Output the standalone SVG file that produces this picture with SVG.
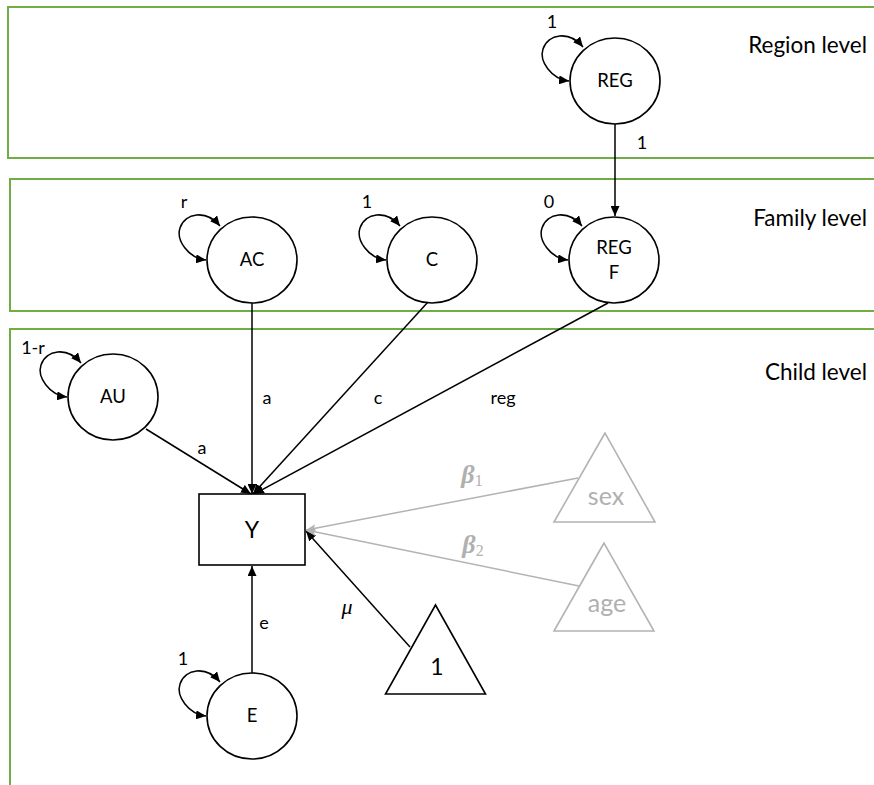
<svg xmlns="http://www.w3.org/2000/svg" width="874" height="785" viewBox="0 0 874 785">
<style>
.lvl{fill:none;stroke:#70ad47;stroke-width:2}
.node{fill:#fff;stroke:#000;stroke-width:1.6}
.gnode{fill:#fff;stroke:#b3b3b3;stroke-width:1.6}
.e{fill:none;stroke:#000;stroke-width:1.5}
.g{fill:none;stroke:#b3b3b3;stroke-width:1.5}
text{font-family:Lato,"Liberation Sans",sans-serif;fill:#000}
.nl{font-size:18.5px;text-anchor:middle}
.lb{font-size:18px;text-anchor:middle}
.lt{font-size:22.5px;text-anchor:end}
.gt{fill:#b0b0b0}
</style>
<defs>
<marker id="ah" markerUnits="userSpaceOnUse" markerWidth="11" markerHeight="9" refX="10" refY="4.5" orient="auto-start-reverse"><path d="M0,0 L10,4.5 L0,9 z" fill="#000"/></marker>
<marker id="gh" markerUnits="userSpaceOnUse" markerWidth="11" markerHeight="9" refX="10" refY="4.5" orient="auto"><path d="M0,0.5 L10,4.5 L0,8.5 L2,4.5 z" fill="#b3b3b3"/></marker>
</defs>
<g id="levels">
<rect class="lvl" x="8" y="7" width="900" height="151"/>
<rect class="lvl" x="10" y="179" width="900" height="132"/>
<rect class="lvl" x="10" y="329" width="900" height="500"/>
<text class="lt" x="867" y="53">Region level</text>
<text class="lt" x="867" y="226">Family level</text>
<text class="lt" x="867" y="380">Child level</text>
</g>
<g id="connectors">
<line class="e" x1="615" y1="124" x2="615" y2="216" marker-end="url(#ah)"/>
<line class="e" x1="252" y1="303" x2="252" y2="494" marker-end="url(#ah)"/>
<line class="e" x1="428" y1="302" x2="253" y2="494" marker-end="url(#ah)"/>
<line class="e" x1="608" y1="303" x2="254" y2="494" marker-end="url(#ah)"/>
<line class="e" x1="146" y1="429" x2="251" y2="494" marker-end="url(#ah)"/>
<line class="e" x1="252" y1="673" x2="252" y2="566" marker-end="url(#ah)"/>
<line class="e" x1="410" y1="647" x2="306" y2="531" marker-end="url(#ah)"/>
<line class="g" x1="578" y1="478" x2="306" y2="530" marker-end="url(#gh)"/>
<line class="g" x1="579" y1="586" x2="306" y2="530" marker-end="url(#gh)"/>
<path class="e" d="M569,81 C551,79 539,61 543,49 C548,34 569,30 583,47" marker-start="url(#ah)" marker-end="url(#ah)"/>
<path class="e" d="M206,260 C188,258 176,240 180,228 C185,213 206,209 220,226" marker-start="url(#ah)" marker-end="url(#ah)"/>
<path class="e" d="M386,260 C368,258 356,240 360,228 C365,213 386,209 400,226" marker-start="url(#ah)" marker-end="url(#ah)"/>
<path class="e" d="M568,260 C550,258 538,240 542,228 C547,213 568,209 582,226" marker-start="url(#ah)" marker-end="url(#ah)"/>
<path class="e" d="M67,397 C49,395 37,377 41,365 C46,350 67,346 81,363" marker-start="url(#ah)" marker-end="url(#ah)"/>
<path class="e" d="M206,716 C188,714 176,696 180,684 C185,669 206,665 220,682" marker-start="url(#ah)" marker-end="url(#ah)"/>
<text class="lb" x="642" y="149">1</text>
<text class="lb" x="267" y="404">a</text>
<text class="lb" x="378" y="404">c</text>
<text class="lb" x="503" y="404">reg</text>
<text class="lb" x="202" y="454">a</text>
<text class="lb" x="264" y="629">e</text>
<text x="347" y="614" style="font-family:'Liberation Serif',serif;font-style:italic;font-size:22px;text-anchor:middle">μ</text>
<text class="gt" x="472" y="483" style="font-family:'Liberation Serif',serif;font-size:26px;text-anchor:middle"><tspan font-weight="bold" font-style="italic">β</tspan><tspan font-size="16" dy="3">1</tspan></text>
<text class="gt" x="473" y="553" style="font-family:'Liberation Serif',serif;font-size:26px;text-anchor:middle"><tspan font-weight="bold" font-style="italic">β</tspan><tspan font-size="16" dy="3">2</tspan></text>
<text class="lb" x="552" y="28">1</text>
<text class="lb" x="184" y="208">r</text>
<text class="lb" x="367" y="208">1</text>
<text class="lb" x="549" y="208">0</text>
<text class="lb" x="33" y="354">1-r</text>
<text class="lb" x="183" y="665">1</text>
</g>
<g id="REG"><ellipse class="node" cx="615" cy="81" rx="45" ry="43"/><text class="nl" x="615" y="87">REG</text></g>
<g id="AC"><ellipse class="node" cx="252" cy="260" rx="45" ry="43"/><text class="nl" x="252" y="266">AC</text></g>
<g id="C"><ellipse class="node" cx="432" cy="260" rx="45" ry="43"/><text class="nl" x="432" y="266">C</text></g>
<g id="REGF"><ellipse class="node" cx="614" cy="260" rx="45" ry="43"/><text class="nl" x="614" y="254">REG</text><text class="nl" x="614" y="279">F</text></g>
<g id="AU"><ellipse class="node" cx="113" cy="397" rx="45" ry="43"/><text class="nl" x="113" y="403">AU</text></g>
<g id="E"><ellipse class="node" cx="252" cy="716" rx="45" ry="43"/><text class="nl" x="252" y="722">E</text></g>
<g id="Y"><rect class="node" x="199" y="494" width="106" height="71"/><text x="252" y="538" style="font-size:23px;text-anchor:middle">Y</text></g>
<g id="one"><polygon class="node" points="435.5,605 385.5,694 485.5,694"/><text x="437" y="675" style="font-size:23px;text-anchor:middle">1</text></g>
<g id="sex"><polygon class="gnode" points="605,433 554,522 655,522"/><text class="gt" x="606" y="505" style="font-size:25px;text-anchor:middle">sex</text></g>
<g id="age"><polygon class="gnode" points="604,543 554,631 654,631"/><text class="gt" x="607" y="612" style="font-size:25px;text-anchor:middle">age</text></g>
</svg>
